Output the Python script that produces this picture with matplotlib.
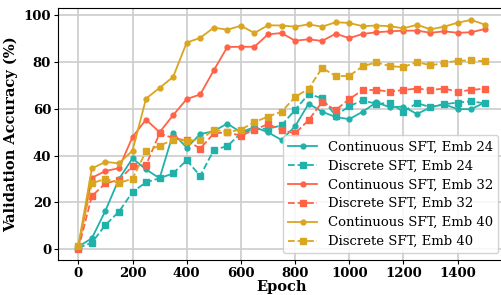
import matplotlib.pyplot as plt
import numpy as np

# epochs (every 50)
epochs = np.arange(0, 1501, 50)

cont_24 = [1, 4.6, 16.4, 30, 38.8, 34.1, 30.3, 49.5, 43.4, 49.2, 50.5, 53.7, 50, 52.2, 50,
           46.7, 52.5, 62.2, 58.8, 56.5, 55.6, 58.8, 62.8, 60.7, 61, 57.8, 60.7, 62, 59.9, 59.9, 62.7]
disc_24 = [0.5, 2.7, 10.3, 16, 24.4, 28.6, 30.3, 32.4, 38, 31.3, 42.4, 44.1, 49.5, 51.4, 51.5,
           52.9, 59.6, 66.3, 64.6, 57, 61.2, 63.6, 62.2, 62.5, 58.8, 62.5, 60.7, 62, 62.7, 63.2, 62.4]
cont_32 = [0.5, 30.5, 33.4, 34.6, 48, 55.4, 50, 57.3, 64.2, 66.2, 76.5, 86.5, 86.6, 86.6, 91.9,
           92.5, 89.2, 89.8, 89.1, 92.2, 90.3, 92.1, 92.8, 93.2, 93.5, 93.5, 92.6, 93.2, 92.6, 92.8, 94.2]
disc_32 = [0, 22.7, 28.1, 29.6, 35.4, 36, 49.5, 47.5, 46.5, 43, 49.5, 50, 48.5, 51, 53.5,
           51, 49.5, 55.2, 62.9, 59.5, 64.2, 68.1, 68.1, 67.4, 68.1, 68.7, 68.1, 68.7, 67.4, 68.1, 68.7]
cont_40 = [1.5, 34.5, 37.3, 36.7, 42.1, 64.4, 69, 73.7, 88.4, 90.4, 94.8, 93.9, 95.6, 92.5, 95.8,
           95.7, 95.2, 96.2, 95.2, 97.1, 96.8, 95.4, 95.7, 95.4, 94.5, 96, 94.1, 95.2, 96.9, 98.1, 96.1]
disc_40 = [1.5, 28.1, 30.1, 28.3, 30.1, 41.8, 44.3, 46.7, 46.4, 46.7, 51.1, 50.1, 51.1, 54.3, 56.7,
           58.8, 65, 68.7, 77.5, 74.1, 74.1, 78.3, 79.9, 78.3, 77.9, 80.1, 78.6, 79.7, 80.6, 80.8, 80.4]

teal = '#20b2aa'
red = '#ff6347'
gold = '#daa520'

plt.rcParams['font.family'] = 'DejaVu Serif'

fig = plt.figure(figsize=(5.02, 2.95), dpi=100)
ax = fig.add_axes([58 / 502, 35 / 295, 447 / 502, 252 / 295])

ax.plot(epochs, cont_24, '-o', color=teal, lw=1.3, ms=3.5, label='Continuous SFT, Emb 24')
ax.plot(epochs, disc_24, '--s', color=teal, lw=1.3, ms=4.5, label='Discrete SFT, Emb 24')
ax.plot(epochs, cont_32, '-o', color=red, lw=1.3, ms=3.5, label='Continuous SFT, Emb 32')
ax.plot(epochs, disc_32, '--s', color=red, lw=1.3, ms=4.5, label='Discrete SFT, Emb 32')
ax.plot(epochs, cont_40, '-o', color=gold, lw=1.3, ms=3.5, label='Continuous SFT, Emb 40')
ax.plot(epochs, disc_40, '--s', color=gold, lw=1.3, ms=4.5, label='Discrete SFT, Emb 40')

ax.set_xlim(-75, 1575)
ax.set_ylim(-4.7, 103.2)
ax.set_xticks([0, 200, 400, 600, 800, 1000, 1200, 1400])
ax.set_yticks([0, 20, 40, 60, 80, 100])
ax.grid(True, color='#cccccc', lw=1.2)
ax.set_axisbelow(True)
ax.tick_params(labelsize=9.5, length=3, pad=2)
for lab in ax.get_xticklabels() + ax.get_yticklabels():
    lab.set_fontweight('bold')
ax.set_xlabel('Epoch', fontsize=10.5, fontweight='bold', labelpad=0)
ax.set_ylabel('Validation Accuracy (%)', fontsize=10.5, fontweight='bold', labelpad=4)

ax.legend(loc='lower right', fontsize=9.5, handlelength=2.2, labelspacing=0.45,
          borderpad=0.4, framealpha=0.85)

fig.savefig('out.png', dpi=100)
